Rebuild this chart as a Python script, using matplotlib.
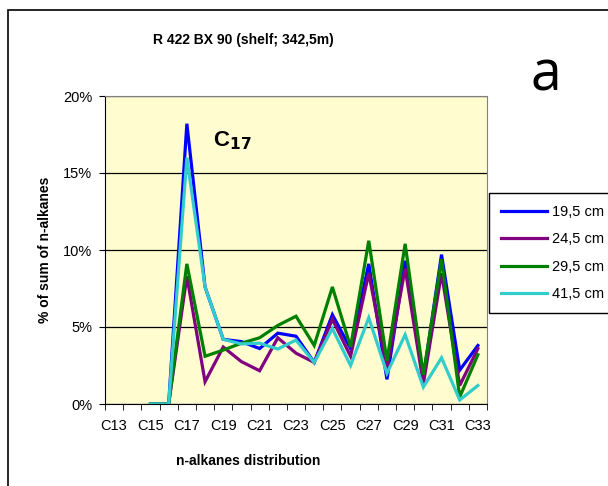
import numpy as np
import matplotlib
matplotlib.use('Agg')
import matplotlib.pyplot as plt
from matplotlib.patches import Rectangle

plt.rcParams['font.family'] = ['Liberation Sans', 'DejaVu Sans']

# n-alkane chain lengths C13..C33, values in % of sum of n-alkanes
chains = ['C%d' % n for n in range(13, 34)]
nan = np.nan
d19_5 = [nan, nan, 0.0, 0.0, 18.2, 7.6, 4.2, 4.05, 3.6, 4.6, 4.4, 2.7, 5.8, 3.6,
         9.1, 1.6, 9.3, 1.7, 9.7, 2.2, 3.8]
d24_5 = [nan, nan, 0.0, 0.0, 8.3, 1.45, 3.7, 2.75, 2.16, 4.3, 3.3, 2.7, 5.5, 3.1,
         8.5, 2.3, 8.8, 1.3, 8.5, 1.2, 3.6]
d29_5 = [nan, nan, 0.0, 0.0, 9.1, 3.1, 3.5, 3.95, 4.3, 5.1, 5.7, 3.8, 7.6, 3.7,
         10.6, 2.8, 10.4, 1.9, 9.4, 0.45, 3.2]
d41_5 = [nan, nan, 0.0, 0.0, 16.0, 7.6, 4.2, 3.9, 3.95, 3.57, 4.15, 2.7, 4.9, 2.5,
         5.6, 2.0, 4.5, 1.1, 3.0, 0.26, 1.2]
depths = ['19,5 cm', '24,5 cm', '29,5 cm', '41,5 cm']
colors = ['#0000FF', '#800080', '#008000', '#33CCCC']

fig = plt.figure(figsize=(6.08, 4.86), dpi=100)
fig.patch.set_facecolor('white')
# outer chart frame (right and bottom edges fall outside the canvas)
fig.add_artist(Rectangle((8/608, -0.5), 2, 1.5 - 10/486, transform=fig.transFigure,
                         fill=False, edgecolor='black', linewidth=1.2))

ax = fig.add_axes([105/608, 82/486, 382/608, 308/486])
ax.set_facecolor('#FFFDD0')

x = np.arange(len(chains))
for vals, lab, c in zip([d19_5, d24_5, d29_5, d41_5], depths, colors):
    ax.plot(x, np.array(vals) / 100, color=c, lw=2.3, label=lab, solid_joinstyle='miter')

ax.set_xlim(-0.5, len(chains) - 0.5)
ax.set_ylim(0, 0.20)
ax.set_yticks([0, 0.05, 0.10, 0.15, 0.20])
ax.set_yticklabels(['0%', '5%', '10%', '15%', '20%'], fontsize=10.5)
ax.grid(axis='y', color='black', lw=0.9)
ax.set_axisbelow(True)

ax.set_xticks(x[::2])
ax.set_xticklabels(chains[::2], fontsize=10.5)
ax.tick_params(axis='x', which='major', length=0, pad=11)
ax.set_xticks(np.arange(-0.5, len(chains)), minor=True)
ax.tick_params(axis='x', which='minor', length=4, direction='out', color='black')
ax.tick_params(axis='y', length=4, direction='out', color='black', pad=5)

for s in ['top', 'right']:
    ax.spines[s].set_color('#808080')
for s in ['left', 'bottom']:
    ax.spines[s].set_color('black')

ax.set_xlabel('n-alkanes distribution', fontsize=10, fontweight='bold')
ax.set_ylabel('% of sum of n-alkanes', fontsize=10, fontweight='bold')
ax.xaxis.set_label_coords(0.374, -0.162)
ax.yaxis.set_label_coords(-0.14, 0.5)

ax.text(5.43, 0.171, r'C$_{\mathbf{17}}$', fontsize=16, fontweight='bold', ha='left', va='center')

fig.text(243/608, 1 - 40/486, 'R 422 BX 90 (shelf; 342,5m)', fontsize=10, fontweight='bold',
         ha='center', va='center')
fig.text(546/608, 1 - 76/486, 'a', fontsize=40, ha='center', va='center',
         family=['Open Sans', 'DejaVu Sans'])

leg = fig.legend(loc='upper left', bbox_to_anchor=(489/608, 1 - 193/486), fontsize=10.5,
                 frameon=True, fancybox=False, edgecolor='black', framealpha=1,
                 handlelength=3.2, handletextpad=0.3, borderpad=0.8, labelspacing=0.93,
                 borderaxespad=0)
leg.get_frame().set_linewidth(1.0)

fig.savefig('out.png', dpi=100)
